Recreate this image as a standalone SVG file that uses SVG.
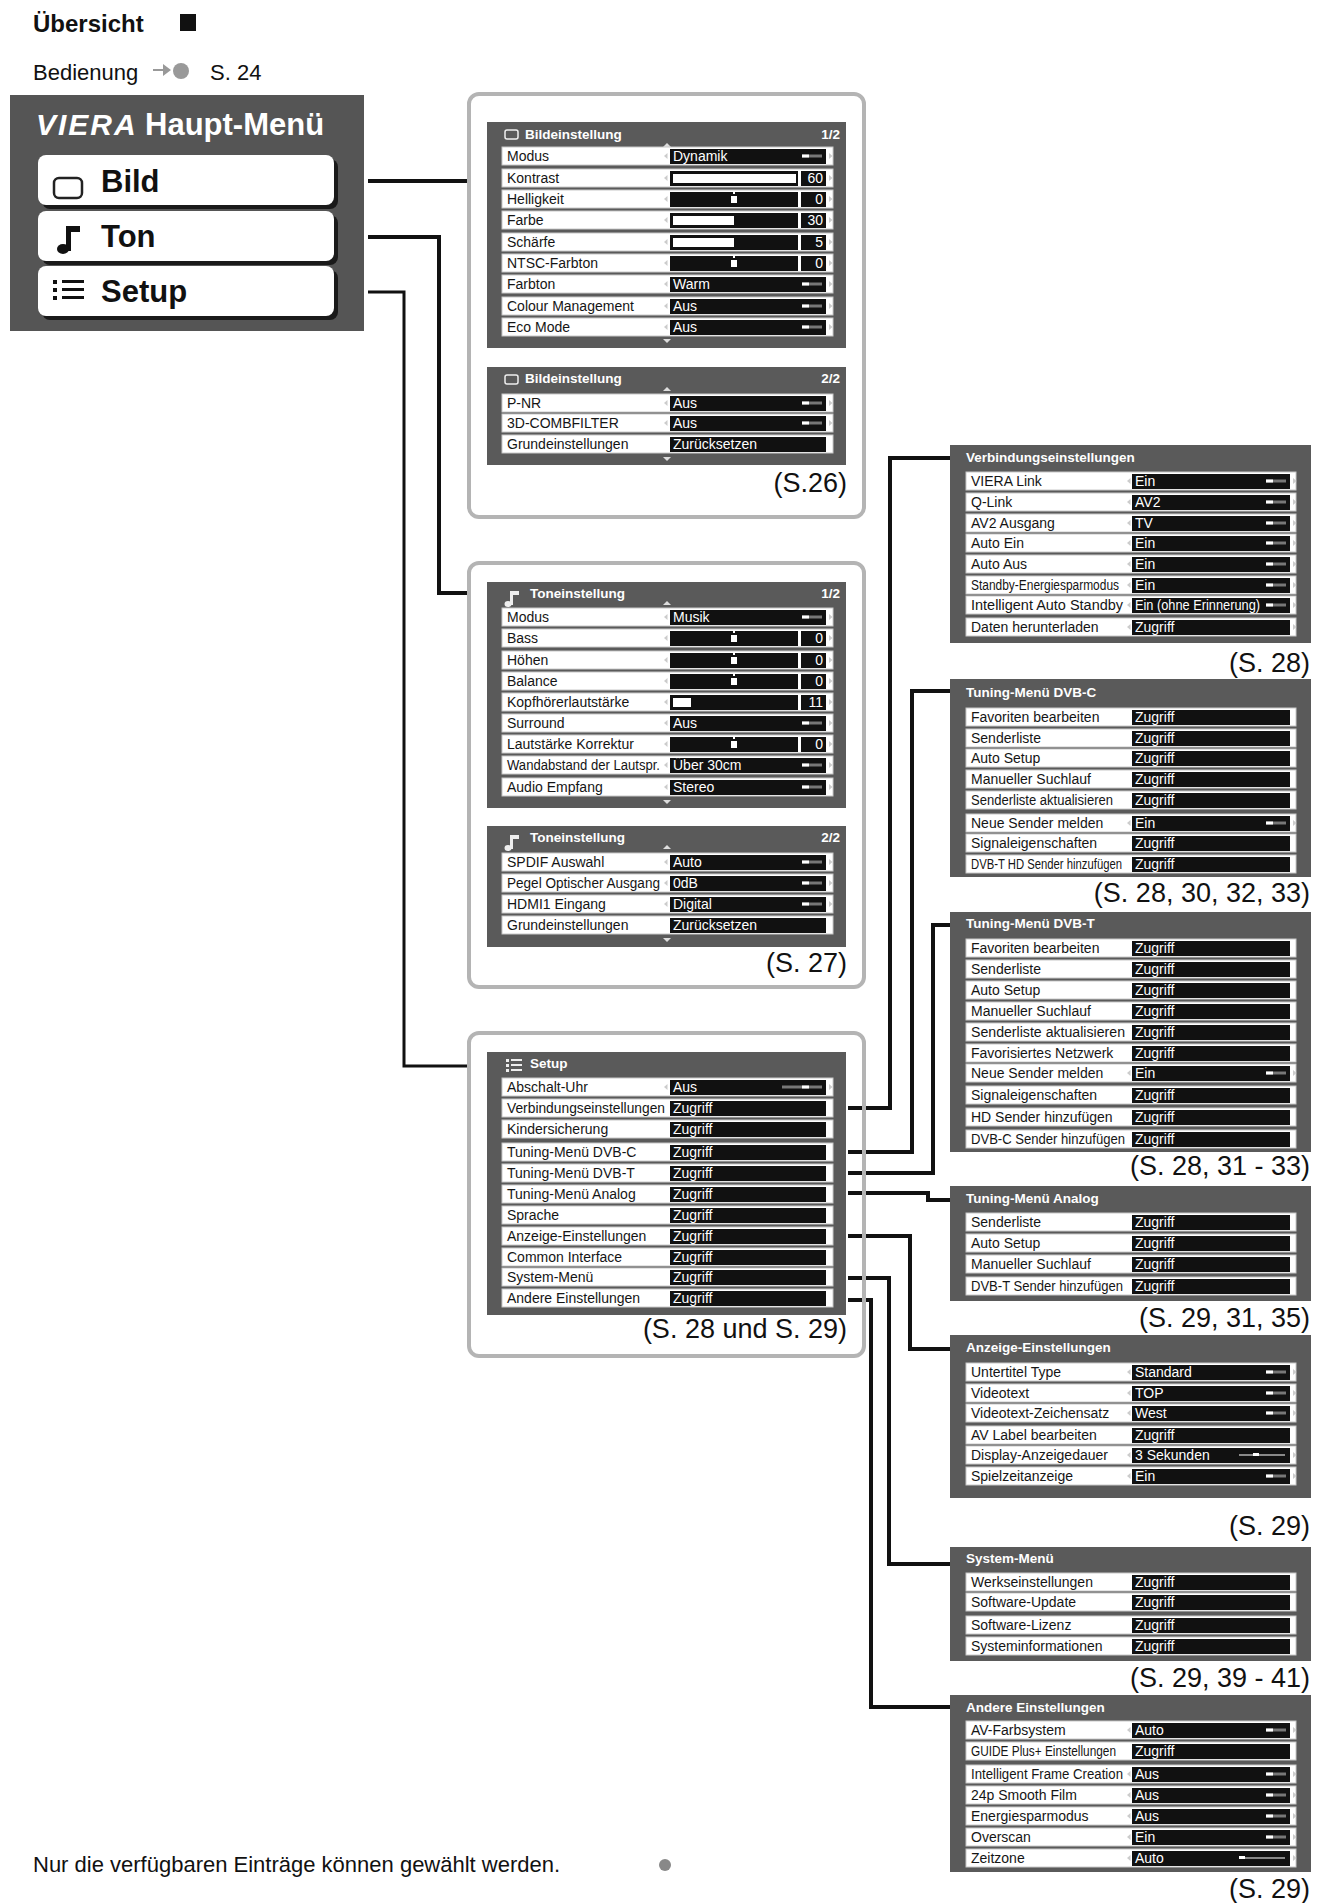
<svg xmlns="http://www.w3.org/2000/svg" xmlns:xlink="http://www.w3.org/1999/xlink" width="1323" height="1903" viewBox="0 0 1323 1903">
<style>
text{font-family:"Liberation Sans",Arial,sans-serif}
.lb{font-size:14px;fill:#151515}
.vt{font-size:14px;fill:#fff}
.hd{font-size:13.5px;font-weight:bold;fill:#fff}
.pg{font-size:27px;fill:#111;text-anchor:end}
.dk{fill:#5a5a5a}
.rw{fill:#fff;stroke:#c8c8c8;stroke-width:1}
.vb{fill:#111}
.fr{fill:none;stroke:#b4b4b4;stroke-width:4}
.cn{fill:none;stroke:#111;stroke-width:4;stroke-linejoin:miter}
.num{font-size:14px;fill:#fff;text-anchor:end}
</style>
<defs>
<path id="la" d="M0 0L3.5-3V3Z" fill="#ccc"/>
<path id="ra" d="M0-3L3.5 0L0 3Z" fill="#ccc"/>
<g id="ind"><rect x="-24" y="-1.5" width="20" height="3" fill="#777"/><rect x="-24" y="-1.5" width="7" height="3" fill="#fff"/></g>
<g id="mk"><rect x="-3" y="-3" width="6" height="7" fill="#fff"/><rect x="-1" y="-7" width="2" height="2" fill="#fff"/></g>
<path id="up" d="M-4 2L0-2L4 2Z" fill="#ddd"/>
<path id="dn" d="M-4-2L0 2L4-2Z" fill="#ddd"/>
</defs>
<rect width="1323" height="1903" fill="#fff"/>

<g id="heading">
<text x="33" y="32" style="font-size:24px;font-weight:bold;fill:#111">Übersicht</text>
<rect x="180" y="14" width="16" height="17" fill="#111"/>
<text x="33" y="80" style="font-size:22px;fill:#111">Bedienung</text>
<path d="M153 69h10v-5l8 6-8 6v-5h-10z" fill="#999"/><circle cx="181" cy="71" r="8" fill="#999"/>
<text x="210" y="80" style="font-size:22px;fill:#111">S. 24</text>
</g>

<g id="connectors">
<path class="cn" d="M368 181H468"/>
<path class="cn" d="M368 237H439V593H468"/>
<path class="cn" d="M368 292H404V1066H468" style="stroke-width:3"/>
<path class="cn" d="M848 1108H890V458H951"/>
<path class="cn" d="M848 1152H912V691H951"/>
<path class="cn" d="M848 1173H933V925H951"/>
<path class="cn" d="M848 1193H928V1200H951"/>
<path class="cn" d="M848 1236H910V1349H951"/>
<path class="cn" d="M848 1278H889V1564H951"/>
<path class="cn" d="M848 1300H871V1707H951"/>
</g>

<g id="main-menu">
<rect x="10" y="95" width="354" height="236" fill="#555"/>
<text x="36" y="135" style="font-size:30px;font-weight:bold;font-style:italic;fill:#fff;letter-spacing:2px">VIERA</text>
<text x="145" y="135" style="font-size:31px;font-weight:bold;fill:#fff">Haupt-Menü</text>
<rect x="42" y="159" width="296" height="50" rx="8" fill="#1a1a1a"/>
<rect x="38" y="155" width="296" height="50" rx="8" fill="#fff"/>
<rect x="54" y="178" width="28" height="20" rx="5" fill="none" stroke="#222" stroke-width="2.5"/>
<text x="101" y="192" style="font-size:31px;font-weight:bold;fill:#111">Bild</text>
<rect x="42" y="215" width="296" height="50" rx="8" fill="#1a1a1a"/>
<rect x="38" y="211" width="296" height="50" rx="8" fill="#fff"/>
<path d="M66 226h14v6h-9v19h-5z" fill="#111"/><ellipse cx="63" cy="249" rx="6" ry="5" fill="#111"/>
<text x="101" y="247" style="font-size:31px;font-weight:bold;fill:#111">Ton</text>
<rect x="42" y="270" width="296" height="50" rx="8" fill="#1a1a1a"/>
<rect x="38" y="266" width="296" height="50" rx="8" fill="#fff"/>
<g fill="#111"><rect x="53" y="280" width="4" height="4"/><rect x="53" y="288" width="4" height="4"/><rect x="53" y="296" width="4" height="4"/><rect x="62" y="280" width="22" height="3"/><rect x="62" y="288" width="22" height="3"/><rect x="62" y="296" width="22" height="3"/></g>
<text x="101" y="302" style="font-size:31px;font-weight:bold;fill:#111">Setup</text>
</g>

<g id="bild-panel">
<rect class="fr" x="469" y="94" width="395" height="423" rx="10"/>
<rect class="dk" x="487" y="122" width="359" height="226"/>
<rect x="505" y="130" width="13" height="9" rx="2" fill="none" stroke="#eee" stroke-width="1.5"/>
<text class="hd" x="525" y="139">Bildeinstellung</text><text class="hd" x="840" y="139" text-anchor="end">1/2</text>
<use href="#up" x="667" y="145"/><use href="#dn" x="667" y="341"/>
<rect class="rw" x="502" y="147" width="331" height="18"/><text class="lb" x="507" y="161">Modus</text><use href="#la" x="664" y="156"/><rect class="vb" x="670" y="149" width="156" height="15"/><text class="vt" x="673" y="161">Dynamik</text><use href="#ind" x="826" y="156"/><use href="#ra" x="829" y="156"/>
<rect class="rw" x="502" y="169" width="331" height="18"/><text class="lb" x="507" y="183">Kontrast</text><use href="#la" x="664" y="178"/><rect class="vb" x="670" y="171" width="128" height="15"/><rect x="673" y="174" width="123" height="9" fill="#fff"/><rect class="vb" x="801" y="171" width="25" height="15"/><text class="num" x="823" y="183">60</text><use href="#ra" x="829" y="178"/>
<rect class="rw" x="502" y="190" width="331" height="18"/><text class="lb" x="507" y="204">Helligkeit</text><use href="#la" x="664" y="199"/><rect class="vb" x="670" y="192" width="128" height="15"/><use href="#mk" x="734" y="199"/><rect class="vb" x="801" y="192" width="25" height="15"/><text class="num" x="823" y="204">0</text><use href="#ra" x="829" y="199"/>
<rect class="rw" x="502" y="211" width="331" height="18"/><text class="lb" x="507" y="225">Farbe</text><use href="#la" x="664" y="220"/><rect class="vb" x="670" y="213" width="128" height="15"/><rect x="673" y="216" width="61" height="9" fill="#fff"/><rect class="vb" x="801" y="213" width="25" height="15"/><text class="num" x="823" y="225">30</text><use href="#ra" x="829" y="220"/>
<rect class="rw" x="502" y="233" width="331" height="18"/><text class="lb" x="507" y="247">Schärfe</text><use href="#la" x="664" y="242"/><rect class="vb" x="670" y="235" width="128" height="15"/><rect x="673" y="238" width="61" height="9" fill="#fff"/><rect class="vb" x="801" y="235" width="25" height="15"/><text class="num" x="823" y="247">5</text><use href="#ra" x="829" y="242"/>
<rect class="rw" x="502" y="254" width="331" height="18"/><text class="lb" x="507" y="268">NTSC-Farbton</text><use href="#la" x="664" y="263"/><rect class="vb" x="670" y="256" width="128" height="15"/><use href="#mk" x="734" y="263"/><rect class="vb" x="801" y="256" width="25" height="15"/><text class="num" x="823" y="268">0</text><use href="#ra" x="829" y="263"/>
<rect class="rw" x="502" y="275" width="331" height="18"/><text class="lb" x="507" y="289">Farbton</text><use href="#la" x="664" y="284"/><rect class="vb" x="670" y="277" width="156" height="15"/><text class="vt" x="673" y="289">Warm</text><use href="#ind" x="826" y="284"/><use href="#ra" x="829" y="284"/>
<rect class="rw" x="502" y="297" width="331" height="18"/><text class="lb" x="507" y="311">Colour Management</text><use href="#la" x="664" y="306"/><rect class="vb" x="670" y="299" width="156" height="15"/><text class="vt" x="673" y="311">Aus</text><use href="#ind" x="826" y="306"/><use href="#ra" x="829" y="306"/>
<rect class="rw" x="502" y="318" width="331" height="18"/><text class="lb" x="507" y="332">Eco Mode</text><use href="#la" x="664" y="327"/><rect class="vb" x="670" y="320" width="156" height="15"/><text class="vt" x="673" y="332">Aus</text><use href="#ind" x="826" y="327"/><use href="#ra" x="829" y="327"/>
<rect class="dk" x="487" y="367" width="359" height="98"/>
<rect x="505" y="375" width="13" height="9" rx="2" fill="none" stroke="#eee" stroke-width="1.5"/>
<text class="hd" x="525" y="383">Bildeinstellung</text><text class="hd" x="840" y="383" text-anchor="end">2/2</text>
<use href="#up" x="667" y="389"/><use href="#dn" x="667" y="459"/>
<rect class="rw" x="502" y="394" width="331" height="18"/><text class="lb" x="507" y="408">P-NR</text><use href="#la" x="664" y="403"/><rect class="vb" x="670" y="396" width="156" height="15"/><text class="vt" x="673" y="408">Aus</text><use href="#ind" x="826" y="403"/><use href="#ra" x="829" y="403"/>
<rect class="rw" x="502" y="414" width="331" height="18"/><text class="lb" x="507" y="428">3D-COMBFILTER</text><use href="#la" x="664" y="423"/><rect class="vb" x="670" y="416" width="156" height="15"/><text class="vt" x="673" y="428">Aus</text><use href="#ind" x="826" y="423"/><use href="#ra" x="829" y="423"/>
<rect class="rw" x="502" y="435" width="331" height="18"/><text class="lb" x="507" y="449">Grundeinstellungen</text><rect class="vb" x="670" y="437" width="156" height="15"/><text class="vt" x="673" y="449">Zurücksetzen</text>
<text class="pg" x="847" y="492">(S.26)</text>
</g>

<g id="ton-panel">
<rect class="fr" x="469" y="563" width="395" height="424" rx="10"/>
<rect class="dk" x="487" y="582" width="359" height="226"/>
<path d="M510 591h9v4h-6v10h-3z" fill="#eee"/><ellipse cx="508" cy="604" rx="3.5" ry="3" fill="#eee"/>
<text class="hd" x="530" y="598">Toneinstellung</text><text class="hd" x="840" y="598" text-anchor="end">1/2</text>
<use href="#up" x="667" y="603"/><use href="#dn" x="667" y="802"/>
<rect class="rw" x="502" y="608" width="331" height="18"/><text class="lb" x="507" y="622">Modus</text><use href="#la" x="664" y="617"/><rect class="vb" x="670" y="610" width="156" height="15"/><text class="vt" x="673" y="622">Musik</text><use href="#ind" x="826" y="617"/><use href="#ra" x="829" y="617"/>
<rect class="rw" x="502" y="629" width="331" height="18"/><text class="lb" x="507" y="643">Bass</text><use href="#la" x="664" y="638"/><rect class="vb" x="670" y="631" width="128" height="15"/><use href="#mk" x="734" y="638"/><rect class="vb" x="801" y="631" width="25" height="15"/><text class="num" x="823" y="643">0</text><use href="#ra" x="829" y="638"/>
<rect class="rw" x="502" y="651" width="331" height="18"/><text class="lb" x="507" y="665">Höhen</text><use href="#la" x="664" y="660"/><rect class="vb" x="670" y="653" width="128" height="15"/><use href="#mk" x="734" y="660"/><rect class="vb" x="801" y="653" width="25" height="15"/><text class="num" x="823" y="665">0</text><use href="#ra" x="829" y="660"/>
<rect class="rw" x="502" y="672" width="331" height="18"/><text class="lb" x="507" y="686">Balance</text><use href="#la" x="664" y="681"/><rect class="vb" x="670" y="674" width="128" height="15"/><use href="#mk" x="734" y="681"/><rect class="vb" x="801" y="674" width="25" height="15"/><text class="num" x="823" y="686">0</text><use href="#ra" x="829" y="681"/>
<rect class="rw" x="502" y="693" width="331" height="18"/><text class="lb" x="507" y="707">Kopfhörerlautstärke</text><use href="#la" x="664" y="702"/><rect class="vb" x="670" y="695" width="128" height="15"/><rect x="673" y="698" width="18" height="9" fill="#fff"/><rect class="vb" x="801" y="695" width="25" height="15"/><text class="num" x="823" y="707">11</text><use href="#ra" x="829" y="702"/>
<rect class="rw" x="502" y="714" width="331" height="18"/><text class="lb" x="507" y="728">Surround</text><use href="#la" x="664" y="723"/><rect class="vb" x="670" y="716" width="156" height="15"/><text class="vt" x="673" y="728">Aus</text><use href="#ind" x="826" y="723"/><use href="#ra" x="829" y="723"/>
<rect class="rw" x="502" y="735" width="331" height="18"/><text class="lb" x="507" y="749">Lautstärke Korrektur</text><use href="#la" x="664" y="744"/><rect class="vb" x="670" y="737" width="128" height="15"/><use href="#mk" x="734" y="744"/><rect class="vb" x="801" y="737" width="25" height="15"/><text class="num" x="823" y="749">0</text><use href="#ra" x="829" y="744"/>
<rect class="rw" x="502" y="756" width="331" height="18"/><text class="lb" x="507" y="770" textLength="153" lengthAdjust="spacingAndGlyphs">Wandabstand der Lautspr.</text><use href="#la" x="664" y="765"/><rect class="vb" x="670" y="758" width="156" height="15"/><text class="vt" x="673" y="770">Über 30cm</text><use href="#ind" x="826" y="765"/><use href="#ra" x="829" y="765"/>
<rect class="rw" x="502" y="778" width="331" height="18"/><text class="lb" x="507" y="792">Audio Empfang</text><use href="#la" x="664" y="787"/><rect class="vb" x="670" y="780" width="156" height="15"/><text class="vt" x="673" y="792">Stereo</text><use href="#ind" x="826" y="787"/><use href="#ra" x="829" y="787"/>
<rect class="dk" x="487" y="826" width="359" height="121"/>
<path d="M510 835h9v4h-6v10h-3z" fill="#eee"/><ellipse cx="508" cy="848" rx="3.5" ry="3" fill="#eee"/>
<text class="hd" x="530" y="842">Toneinstellung</text><text class="hd" x="840" y="842" text-anchor="end">2/2</text>
<use href="#up" x="667" y="847"/><use href="#dn" x="667" y="940"/>
<rect class="rw" x="502" y="853" width="331" height="18"/><text class="lb" x="507" y="867">SPDIF Auswahl</text><use href="#la" x="664" y="862"/><rect class="vb" x="670" y="855" width="156" height="15"/><text class="vt" x="673" y="867">Auto</text><use href="#ind" x="826" y="862"/><use href="#ra" x="829" y="862"/>
<rect class="rw" x="502" y="874" width="331" height="18"/><text class="lb" x="507" y="888" textLength="153" lengthAdjust="spacingAndGlyphs">Pegel Optischer Ausgang</text><use href="#la" x="664" y="883"/><rect class="vb" x="670" y="876" width="156" height="15"/><text class="vt" x="673" y="888">0dB</text><use href="#ind" x="826" y="883"/><use href="#ra" x="829" y="883"/>
<rect class="rw" x="502" y="895" width="331" height="18"/><text class="lb" x="507" y="909">HDMI1 Eingang</text><use href="#la" x="664" y="904"/><rect class="vb" x="670" y="897" width="156" height="15"/><text class="vt" x="673" y="909">Digital</text><use href="#ind" x="826" y="904"/><use href="#ra" x="829" y="904"/>
<rect class="rw" x="502" y="916" width="331" height="18"/><text class="lb" x="507" y="930">Grundeinstellungen</text><rect class="vb" x="670" y="918" width="156" height="15"/><text class="vt" x="673" y="930">Zurücksetzen</text>
<text class="pg" x="847" y="972">(S. 27)</text>
</g>

<g id="setup-panel">
<rect class="fr" x="469" y="1033" width="395" height="323" rx="10"/>
<rect class="dk" x="487" y="1052" width="359" height="263"/>
<g fill="#eee"><rect x="506" y="1059" width="3" height="3"/><rect x="506" y="1064" width="3" height="3"/><rect x="506" y="1069" width="3" height="3"/><rect x="511" y="1059" width="11" height="2"/><rect x="511" y="1064" width="11" height="2"/><rect x="511" y="1069" width="11" height="2"/></g>
<text class="hd" x="530" y="1068">Setup</text>
<rect class="rw" x="502" y="1078" width="331" height="18"/><text class="lb" x="507" y="1092">Abschalt-Uhr</text><use href="#la" x="664" y="1087"/><rect class="vb" x="670" y="1080" width="156" height="15"/><text class="vt" x="673" y="1092">Aus</text><use href="#ind" x="826" y="1087"/><rect x="782" y="1085.5" width="20" height="3" fill="#777"/><use href="#ra" x="829" y="1087"/>
<rect class="rw" x="502" y="1099" width="331" height="18"/><text class="lb" x="507" y="1113" textLength="158" lengthAdjust="spacingAndGlyphs">Verbindungseinstellungen</text><rect class="vb" x="670" y="1101" width="156" height="15"/><text class="vt" x="673" y="1113">Zugriff</text>
<rect class="rw" x="502" y="1120" width="331" height="18"/><text class="lb" x="507" y="1134">Kindersicherung</text><rect class="vb" x="670" y="1122" width="156" height="15"/><text class="vt" x="673" y="1134">Zugriff</text>
<rect class="rw" x="502" y="1143" width="331" height="18"/><text class="lb" x="507" y="1157">Tuning-Menü DVB-C</text><rect class="vb" x="670" y="1145" width="156" height="15"/><text class="vt" x="673" y="1157">Zugriff</text>
<rect class="rw" x="502" y="1164" width="331" height="18"/><text class="lb" x="507" y="1178">Tuning-Menü DVB-T</text><rect class="vb" x="670" y="1166" width="156" height="15"/><text class="vt" x="673" y="1178">Zugriff</text>
<rect class="rw" x="502" y="1185" width="331" height="18"/><text class="lb" x="507" y="1199">Tuning-Menü Analog</text><rect class="vb" x="670" y="1187" width="156" height="15"/><text class="vt" x="673" y="1199">Zugriff</text>
<rect class="rw" x="502" y="1206" width="331" height="18"/><text class="lb" x="507" y="1220">Sprache</text><rect class="vb" x="670" y="1208" width="156" height="15"/><text class="vt" x="673" y="1220">Zugriff</text>
<rect class="rw" x="502" y="1227" width="331" height="18"/><text class="lb" x="507" y="1241">Anzeige-Einstellungen</text><rect class="vb" x="670" y="1229" width="156" height="15"/><text class="vt" x="673" y="1241">Zugriff</text>
<rect class="rw" x="502" y="1248" width="331" height="18"/><text class="lb" x="507" y="1262">Common Interface</text><rect class="vb" x="670" y="1250" width="156" height="15"/><text class="vt" x="673" y="1262">Zugriff</text>
<rect class="rw" x="502" y="1268" width="331" height="18"/><text class="lb" x="507" y="1282">System-Menü</text><rect class="vb" x="670" y="1270" width="156" height="15"/><text class="vt" x="673" y="1282">Zugriff</text>
<rect class="rw" x="502" y="1289" width="331" height="18"/><text class="lb" x="507" y="1303">Andere Einstellungen</text><rect class="vb" x="670" y="1291" width="156" height="15"/><text class="vt" x="673" y="1303">Zugriff</text>
<text class="pg" x="847" y="1338">(S. 28 und S. 29)</text>
</g>

<g id="verbindung">
<rect class="dk" x="950" y="445" width="361" height="198"/>
<text class="hd" x="966" y="462">Verbindungseinstellungen</text>
<rect class="rw" x="966" y="472" width="330" height="18"/><text class="lb" x="971" y="486">VIERA Link</text><use href="#la" x="1127" y="481"/><rect class="vb" x="1132" y="474" width="158" height="15"/><text class="vt" x="1135" y="486">Ein</text><use href="#ind" x="1290" y="481"/><use href="#ra" x="1293" y="481"/>
<rect class="rw" x="966" y="493" width="330" height="18"/><text class="lb" x="971" y="507">Q-Link</text><use href="#la" x="1127" y="502"/><rect class="vb" x="1132" y="495" width="158" height="15"/><text class="vt" x="1135" y="507">AV2</text><use href="#ind" x="1290" y="502"/><use href="#ra" x="1293" y="502"/>
<rect class="rw" x="966" y="514" width="330" height="18"/><text class="lb" x="971" y="528">AV2 Ausgang</text><use href="#la" x="1127" y="523"/><rect class="vb" x="1132" y="516" width="158" height="15"/><text class="vt" x="1135" y="528">TV</text><use href="#ind" x="1290" y="523"/><use href="#ra" x="1293" y="523"/>
<rect class="rw" x="966" y="534" width="330" height="18"/><text class="lb" x="971" y="548">Auto Ein</text><use href="#la" x="1127" y="543"/><rect class="vb" x="1132" y="536" width="158" height="15"/><text class="vt" x="1135" y="548">Ein</text><use href="#ind" x="1290" y="543"/><use href="#ra" x="1293" y="543"/>
<rect class="rw" x="966" y="555" width="330" height="18"/><text class="lb" x="971" y="569">Auto Aus</text><use href="#la" x="1127" y="564"/><rect class="vb" x="1132" y="557" width="158" height="15"/><text class="vt" x="1135" y="569">Ein</text><use href="#ind" x="1290" y="564"/><use href="#ra" x="1293" y="564"/>
<rect class="rw" x="966" y="576" width="330" height="18"/><text class="lb" x="971" y="590" textLength="148" lengthAdjust="spacingAndGlyphs">Standby-Energiesparmodus</text><use href="#la" x="1127" y="585"/><rect class="vb" x="1132" y="578" width="158" height="15"/><text class="vt" x="1135" y="590">Ein</text><use href="#ind" x="1290" y="585"/><use href="#ra" x="1293" y="585"/>
<rect class="rw" x="966" y="596" width="330" height="18"/><text class="lb" x="971" y="610" textLength="152" lengthAdjust="spacingAndGlyphs">Intelligent Auto Standby</text><use href="#la" x="1127" y="605"/><rect class="vb" x="1132" y="598" width="158" height="15"/><text class="vt" x="1135" y="610" textLength="125" lengthAdjust="spacingAndGlyphs">Ein (ohne Erinnerung)</text><use href="#ind" x="1290" y="605"/><use href="#ra" x="1293" y="605"/>
<rect class="rw" x="966" y="618" width="330" height="18"/><text class="lb" x="971" y="632">Daten herunterladen</text><use href="#la" x="1127" y="627"/><rect class="vb" x="1132" y="620" width="158" height="15"/><text class="vt" x="1135" y="632">Zugriff</text><use href="#ra" x="1293" y="627"/>
<text class="pg" x="1310" y="672">(S. 28)</text>
</g>

<g id="dvb-c">
<rect class="dk" x="950" y="679" width="361" height="198"/>
<text class="hd" x="966" y="697">Tuning-Menü DVB-C</text>
<rect class="rw" x="966" y="708" width="330" height="18"/><text class="lb" x="971" y="722">Favoriten bearbeiten</text><rect class="vb" x="1132" y="710" width="158" height="15"/><text class="vt" x="1135" y="722">Zugriff</text>
<rect class="rw" x="966" y="729" width="330" height="18"/><text class="lb" x="971" y="743">Senderliste</text><rect class="vb" x="1132" y="731" width="158" height="15"/><text class="vt" x="1135" y="743">Zugriff</text>
<rect class="rw" x="966" y="749" width="330" height="18"/><text class="lb" x="971" y="763">Auto Setup</text><rect class="vb" x="1132" y="751" width="158" height="15"/><text class="vt" x="1135" y="763">Zugriff</text>
<rect class="rw" x="966" y="770" width="330" height="18"/><text class="lb" x="971" y="784">Manueller Suchlauf</text><rect class="vb" x="1132" y="772" width="158" height="15"/><text class="vt" x="1135" y="784">Zugriff</text>
<rect class="rw" x="966" y="791" width="330" height="18"/><text class="lb" x="971" y="805" textLength="142" lengthAdjust="spacingAndGlyphs">Senderliste aktualisieren</text><rect class="vb" x="1132" y="793" width="158" height="15"/><text class="vt" x="1135" y="805">Zugriff</text>
<rect class="rw" x="966" y="814" width="330" height="18"/><text class="lb" x="971" y="828">Neue Sender melden</text><use href="#la" x="1127" y="823"/><rect class="vb" x="1132" y="816" width="158" height="15"/><text class="vt" x="1135" y="828">Ein</text><use href="#ind" x="1290" y="823"/><use href="#ra" x="1293" y="823"/>
<rect class="rw" x="966" y="834" width="330" height="18"/><text class="lb" x="971" y="848">Signaleigenschaften</text><rect class="vb" x="1132" y="836" width="158" height="15"/><text class="vt" x="1135" y="848">Zugriff</text>
<rect class="rw" x="966" y="855" width="330" height="18"/><text class="lb" x="971" y="869" textLength="151" lengthAdjust="spacingAndGlyphs">DVB-T HD Sender hinzufügen</text><rect class="vb" x="1132" y="857" width="158" height="15"/><text class="vt" x="1135" y="869">Zugriff</text>
<text class="pg" x="1310" y="902">(S. 28, 30, 32, 33)</text>
</g>

<g id="dvb-t">
<rect class="dk" x="950" y="912" width="361" height="240"/>
<text class="hd" x="966" y="928">Tuning-Menü DVB-T</text>
<rect class="rw" x="966" y="939" width="330" height="18"/><text class="lb" x="971" y="953">Favoriten bearbeiten</text><rect class="vb" x="1132" y="941" width="158" height="15"/><text class="vt" x="1135" y="953">Zugriff</text>
<rect class="rw" x="966" y="960" width="330" height="18"/><text class="lb" x="971" y="974">Senderliste</text><rect class="vb" x="1132" y="962" width="158" height="15"/><text class="vt" x="1135" y="974">Zugriff</text>
<rect class="rw" x="966" y="981" width="330" height="18"/><text class="lb" x="971" y="995">Auto Setup</text><rect class="vb" x="1132" y="983" width="158" height="15"/><text class="vt" x="1135" y="995">Zugriff</text>
<rect class="rw" x="966" y="1002" width="330" height="18"/><text class="lb" x="971" y="1016">Manueller Suchlauf</text><rect class="vb" x="1132" y="1004" width="158" height="15"/><text class="vt" x="1135" y="1016">Zugriff</text>
<rect class="rw" x="966" y="1023" width="330" height="18"/><text class="lb" x="971" y="1037" textLength="154" lengthAdjust="spacingAndGlyphs">Senderliste aktualisieren</text><rect class="vb" x="1132" y="1025" width="158" height="15"/><text class="vt" x="1135" y="1037">Zugriff</text>
<rect class="rw" x="966" y="1044" width="330" height="18"/><text class="lb" x="971" y="1058">Favorisiertes Netzwerk</text><rect class="vb" x="1132" y="1046" width="158" height="15"/><text class="vt" x="1135" y="1058">Zugriff</text>
<rect class="rw" x="966" y="1064" width="330" height="18"/><text class="lb" x="971" y="1078">Neue Sender melden</text><use href="#la" x="1127" y="1073"/><rect class="vb" x="1132" y="1066" width="158" height="15"/><text class="vt" x="1135" y="1078">Ein</text><use href="#ind" x="1290" y="1073"/><use href="#ra" x="1293" y="1073"/>
<rect class="rw" x="966" y="1086" width="330" height="18"/><text class="lb" x="971" y="1100">Signaleigenschaften</text><rect class="vb" x="1132" y="1088" width="158" height="15"/><text class="vt" x="1135" y="1100">Zugriff</text>
<rect class="rw" x="966" y="1108" width="330" height="18"/><text class="lb" x="971" y="1122">HD Sender hinzufügen</text><rect class="vb" x="1132" y="1110" width="158" height="15"/><text class="vt" x="1135" y="1122">Zugriff</text>
<rect class="rw" x="966" y="1130" width="330" height="18"/><text class="lb" x="971" y="1144" textLength="154" lengthAdjust="spacingAndGlyphs">DVB-C Sender hinzufügen</text><rect class="vb" x="1132" y="1132" width="158" height="15"/><text class="vt" x="1135" y="1144">Zugriff</text>
<text class="pg" x="1310" y="1175">(S. 28, 31 - 33)</text>
</g>

<g id="analog">
<rect class="dk" x="950" y="1186" width="361" height="115"/>
<text class="hd" x="966" y="1203">Tuning-Menü Analog</text>
<rect class="rw" x="966" y="1213" width="330" height="18"/><text class="lb" x="971" y="1227">Senderliste</text><rect class="vb" x="1132" y="1215" width="158" height="15"/><text class="vt" x="1135" y="1227">Zugriff</text>
<rect class="rw" x="966" y="1234" width="330" height="18"/><text class="lb" x="971" y="1248">Auto Setup</text><rect class="vb" x="1132" y="1236" width="158" height="15"/><text class="vt" x="1135" y="1248">Zugriff</text>
<rect class="rw" x="966" y="1255" width="330" height="18"/><text class="lb" x="971" y="1269">Manueller Suchlauf</text><rect class="vb" x="1132" y="1257" width="158" height="15"/><text class="vt" x="1135" y="1269">Zugriff</text>
<rect class="rw" x="966" y="1277" width="330" height="18"/><text class="lb" x="971" y="1291" textLength="152" lengthAdjust="spacingAndGlyphs">DVB-T Sender hinzufügen</text><rect class="vb" x="1132" y="1279" width="158" height="15"/><text class="vt" x="1135" y="1291">Zugriff</text>
<text class="pg" x="1310" y="1327">(S. 29, 31, 35)</text>
</g>

<g id="anzeige">
<rect class="dk" x="950" y="1335" width="361" height="163"/>
<text class="hd" x="966" y="1352">Anzeige-Einstellungen</text>
<rect class="rw" x="966" y="1363" width="330" height="18"/><text class="lb" x="971" y="1377">Untertitel Type</text><use href="#la" x="1127" y="1372"/><rect class="vb" x="1132" y="1365" width="158" height="15"/><text class="vt" x="1135" y="1377">Standard</text><use href="#ind" x="1290" y="1372"/><use href="#ra" x="1293" y="1372"/>
<rect class="rw" x="966" y="1384" width="330" height="18"/><text class="lb" x="971" y="1398">Videotext</text><use href="#la" x="1127" y="1393"/><rect class="vb" x="1132" y="1386" width="158" height="15"/><text class="vt" x="1135" y="1398">TOP</text><use href="#ind" x="1290" y="1393"/><use href="#ra" x="1293" y="1393"/>
<rect class="rw" x="966" y="1404" width="330" height="18"/><text class="lb" x="971" y="1418">Videotext-Zeichensatz</text><use href="#la" x="1127" y="1413"/><rect class="vb" x="1132" y="1406" width="158" height="15"/><text class="vt" x="1135" y="1418">West</text><use href="#ind" x="1290" y="1413"/><use href="#ra" x="1293" y="1413"/>
<rect class="rw" x="966" y="1426" width="330" height="18"/><text class="lb" x="971" y="1440">AV Label bearbeiten</text><rect class="vb" x="1132" y="1428" width="158" height="15"/><text class="vt" x="1135" y="1440">Zugriff</text>
<rect class="rw" x="966" y="1446" width="330" height="18"/><text class="lb" x="971" y="1460">Display-Anzeigedauer</text><use href="#la" x="1127" y="1455"/><rect class="vb" x="1132" y="1448" width="158" height="15"/><text class="vt" x="1135" y="1460">3 Sekunden</text><rect x="1239" y="1454" width="46" height="2" fill="#888"/><rect x="1253" y="1453" width="6" height="3" fill="#fff"/><use href="#ra" x="1293" y="1455"/>
<rect class="rw" x="966" y="1467" width="330" height="18"/><text class="lb" x="971" y="1481">Spielzeitanzeige</text><use href="#la" x="1127" y="1476"/><rect class="vb" x="1132" y="1469" width="158" height="15"/><text class="vt" x="1135" y="1481">Ein</text><use href="#ind" x="1290" y="1476"/><use href="#ra" x="1293" y="1476"/>
<text class="pg" x="1310" y="1535">(S. 29)</text>
</g>

<g id="system">
<rect class="dk" x="950" y="1547" width="361" height="114"/>
<text class="hd" x="966" y="1563">System-Menü</text>
<rect class="rw" x="966" y="1573" width="330" height="18"/><text class="lb" x="971" y="1587">Werkseinstellungen</text><rect class="vb" x="1132" y="1575" width="158" height="15"/><text class="vt" x="1135" y="1587">Zugriff</text>
<rect class="rw" x="966" y="1593" width="330" height="18"/><text class="lb" x="971" y="1607">Software-Update</text><rect class="vb" x="1132" y="1595" width="158" height="15"/><text class="vt" x="1135" y="1607">Zugriff</text>
<rect class="rw" x="966" y="1616" width="330" height="18"/><text class="lb" x="971" y="1630">Software-Lizenz</text><rect class="vb" x="1132" y="1618" width="158" height="15"/><text class="vt" x="1135" y="1630">Zugriff</text>
<rect class="rw" x="966" y="1637" width="330" height="18"/><text class="lb" x="971" y="1651">Systeminformationen</text><rect class="vb" x="1132" y="1639" width="158" height="15"/><text class="vt" x="1135" y="1651">Zugriff</text>
<text class="pg" x="1310" y="1687">(S. 29, 39 - 41)</text>
</g>

<g id="andere">
<rect class="dk" x="950" y="1695" width="361" height="177"/>
<text class="hd" x="966" y="1712">Andere Einstellungen</text>
<rect class="rw" x="966" y="1721" width="330" height="18"/><text class="lb" x="971" y="1735">AV-Farbsystem</text><use href="#la" x="1127" y="1730"/><rect class="vb" x="1132" y="1723" width="158" height="15"/><text class="vt" x="1135" y="1735">Auto</text><use href="#ind" x="1290" y="1730"/><use href="#ra" x="1293" y="1730"/>
<rect class="rw" x="966" y="1742" width="330" height="18"/><text class="lb" x="971" y="1756" textLength="145" lengthAdjust="spacingAndGlyphs">GUIDE Plus+  Einstellungen</text><rect class="vb" x="1132" y="1744" width="158" height="15"/><text class="vt" x="1135" y="1756">Zugriff</text>
<rect class="rw" x="966" y="1765" width="330" height="18"/><text class="lb" x="971" y="1779" textLength="152" lengthAdjust="spacingAndGlyphs">Intelligent Frame Creation</text><use href="#la" x="1127" y="1774"/><rect class="vb" x="1132" y="1767" width="158" height="15"/><text class="vt" x="1135" y="1779">Aus</text><use href="#ind" x="1290" y="1774"/><use href="#ra" x="1293" y="1774"/>
<rect class="rw" x="966" y="1786" width="330" height="18"/><text class="lb" x="971" y="1800">24p Smooth Film</text><use href="#la" x="1127" y="1795"/><rect class="vb" x="1132" y="1788" width="158" height="15"/><text class="vt" x="1135" y="1800">Aus</text><use href="#ind" x="1290" y="1795"/><use href="#ra" x="1293" y="1795"/>
<rect class="rw" x="966" y="1807" width="330" height="18"/><text class="lb" x="971" y="1821">Energiesparmodus</text><use href="#la" x="1127" y="1816"/><rect class="vb" x="1132" y="1809" width="158" height="15"/><text class="vt" x="1135" y="1821">Aus</text><use href="#ind" x="1290" y="1816"/><use href="#ra" x="1293" y="1816"/>
<rect class="rw" x="966" y="1828" width="330" height="18"/><text class="lb" x="971" y="1842">Overscan</text><use href="#la" x="1127" y="1837"/><rect class="vb" x="1132" y="1830" width="158" height="15"/><text class="vt" x="1135" y="1842">Ein</text><use href="#ind" x="1290" y="1837"/><use href="#ra" x="1293" y="1837"/>
<rect class="rw" x="966" y="1849" width="330" height="18"/><text class="lb" x="971" y="1863">Zeitzone</text><use href="#la" x="1127" y="1858"/><rect class="vb" x="1132" y="1851" width="158" height="15"/><text class="vt" x="1135" y="1863">Auto</text><rect x="1239" y="1857" width="46" height="2" fill="#888"/><rect x="1239" y="1856" width="6" height="3" fill="#fff"/><use href="#ra" x="1293" y="1858"/>
<text class="pg" x="1310" y="1898">(S. 29)</text>
</g>

<g id="footer">
<text x="33" y="1872" style="font-size:22px;fill:#111">Nur die verfügbaren Einträge können gewählt werden.</text>
<circle cx="665" cy="1865" r="6" fill="#888"/>
</g>
</svg>
